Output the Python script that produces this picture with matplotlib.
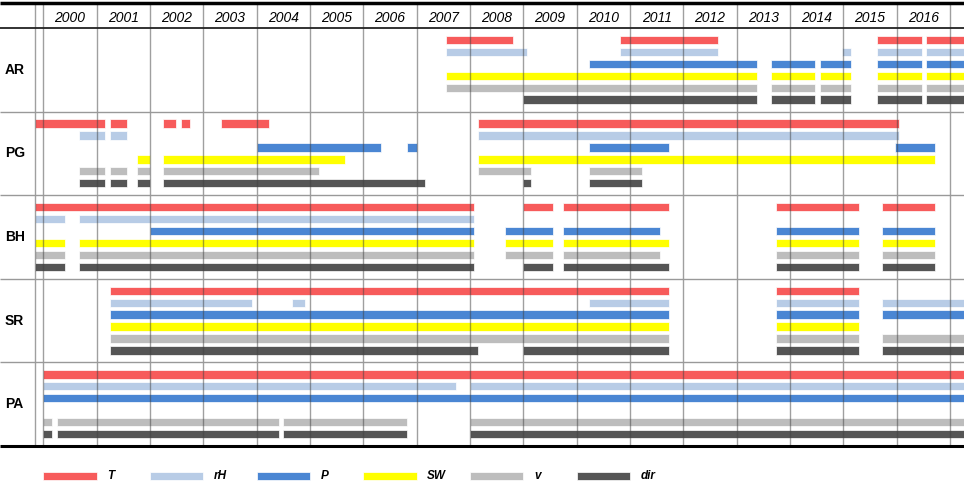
import matplotlib
matplotlib.use("Agg")
import matplotlib.pyplot as plt
from matplotlib.patches import Rectangle

plt.rcParams['font.family'] = ['Liberation Sans', 'DejaVu Sans']

# station rows, top to bottom
stations = ['AR', 'PG', 'BH', 'SR', 'PA']
variables = ['T', 'rH', 'P', 'SW', 'v', 'dir']
colors = ['#f75b5b', '#b8cce6', '#4a86d3', '#ffff00', '#bdbdbd', '#555555']
years = list(range(2000, 2017))

# data periods (start, end) in decimal years
AR = {
    'T':   [(2007.56, 2008.81), (2010.81, 2012.65), (2015.64, 2016.47), (2016.55, 2017.5)],
    'rH':  [(2007.56, 2009.07), (2010.81, 2012.65), (2014.98, 2015.14), (2015.64, 2016.47), (2016.55, 2017.5)],
    'P':   [(2010.24, 2013.39), (2013.64, 2014.47), (2014.56, 2015.14), (2015.64, 2016.47), (2016.55, 2017.5)],
    'SW':  [(2007.56, 2013.39), (2013.64, 2014.47), (2014.56, 2015.14), (2015.64, 2016.47), (2016.55, 2017.5)],
    'v':   [(2007.56, 2013.39), (2013.64, 2014.47), (2014.56, 2015.14), (2015.64, 2016.47), (2016.55, 2017.5)],
    'dir': [(2009.0, 2013.39), (2013.64, 2014.47), (2014.56, 2015.14), (2015.64, 2016.47), (2016.55, 2017.5)],
}
PG = {
    'T':   [(1999.84, 2001.16), (2001.25, 2001.575), (2002.25, 2002.49), (2002.575, 2002.75),
            (2003.325, 2004.24), (2008.16, 2016.05)],
    'rH':  [(2000.66, 2001.16), (2001.25, 2001.575), (2008.16, 2016.05)],
    'P':   [(2004.0, 2006.325), (2006.825, 2007.0), (2010.24, 2011.73), (2015.97, 2016.725)],
    'SW':  [(2001.75, 2002.0), (2002.25, 2005.66), (2008.16, 2016.725)],
    'v':   [(2000.66, 2001.16), (2001.25, 2001.575), (2001.75, 2002.0), (2002.25, 2005.16),
            (2008.16, 2009.15), (2010.24, 2011.23)],
    'dir': [(2000.66, 2001.16), (2001.25, 2001.575), (2001.75, 2002.0), (2002.25, 2007.15),
            (2009.0, 2009.15), (2010.24, 2011.23)],
}
BH = {
    'T':   [(1999.84, 2008.075), (2009.0, 2009.56), (2009.74, 2011.73), (2013.73, 2015.30), (2015.73, 2016.725)],
    'rH':  [(1999.84, 2000.41), (2000.66, 2008.075)],
    'P':   [(2002.0, 2008.075), (2008.66, 2009.56), (2009.74, 2011.57), (2013.73, 2015.30), (2015.73, 2016.725)],
    'SW':  [(1999.84, 2000.41), (2000.66, 2008.075), (2008.66, 2009.56), (2009.74, 2011.73),
            (2013.73, 2015.30), (2015.73, 2016.725)],
    'v':   [(1999.84, 2000.41), (2000.66, 2008.075), (2008.66, 2009.56), (2009.74, 2011.57),
            (2013.73, 2015.30), (2015.73, 2016.725)],
    'dir': [(1999.84, 2000.41), (2000.66, 2008.075), (2009.0, 2009.56), (2009.74, 2011.73),
            (2013.73, 2015.30), (2015.73, 2016.725)],
}
SR = {
    'T':   [(2001.25, 2011.73), (2013.73, 2015.30)],
    'rH':  [(2001.25, 2003.91), (2004.66, 2004.91), (2010.24, 2011.73), (2013.73, 2015.30), (2015.73, 2017.5)],
    'P':   [(2001.25, 2011.73), (2013.73, 2015.30), (2015.73, 2017.5)],
    'SW':  [(2001.25, 2011.73), (2013.73, 2015.30)],
    'v':   [(2001.25, 2011.73), (2013.73, 2015.30), (2015.73, 2017.5)],
    'dir': [(2001.25, 2008.16), (2009.0, 2011.73), (2013.73, 2015.30), (2015.73, 2017.5)],
}
PA = {
    'T':   [(2000.0, 2017.5)],
    'rH':  [(2000.0, 2007.74), (2008.0, 2017.5)],
    'P':   [(2000.0, 2017.5)],
    'SW':  [],
    'v':   [(2000.0, 2000.16), (2000.25, 2004.41), (2004.49, 2006.825), (2008.0, 2017.5)],
    'dir': [(2000.0, 2000.16), (2000.25, 2004.41), (2004.49, 2006.825), (2008.0, 2017.5)],
}
periods = [AR, PG, BH, SR, PA]

# layout: y in row units (each station block = 7 rows), x in years
x_left, x_right = 1999.1875, 2017.264
y_top, y_bottom = -2.344, 38.18
x_frame = 1999.84
y_head = -2.093
n_rows = 7

fig = plt.figure(figsize=(9.64, 4.84), dpi=100)
ax = fig.add_axes([0, 0, 1, 1])
ax.set_xlim(x_left, x_right)
ax.set_ylim(y_bottom, y_top)
ax.axis('off')

bar_h = 0.7
for g, (name, st) in enumerate(zip(stations, periods)):
    top = g * n_rows
    for i, var in enumerate(variables):
        y = top + 1 + i
        spans = st[var]
        if spans:
            ax.barh([y] * len(spans), [e - s for s, e in spans], left=[s for s, e in spans],
                    height=bar_h, color=colors[i], edgecolor='white', linewidth=0.5, zorder=2)
    ax.text(1999.28, top + 3.5, name, ha='left', va='center', fontsize=10, fontweight='bold')

# vertical grid lines (year boundaries)
ax.vlines([x_frame] + years + [2017], y_head, len(stations) * n_rows,
          color='#404040', alpha=0.5, linewidth=1, zorder=3)

# horizontal rules
ax.hlines(y_head, x_left, x_right, color='black', linewidth=2.5, zorder=4)
ax.hlines(0, x_left, x_right, color='#222222', linewidth=1.3, zorder=4)
ax.hlines([n_rows * k for k in range(1, len(stations))], x_left, x_right,
          color='#999999', linewidth=1, zorder=4)
ax.hlines(len(stations) * n_rows, x_left, x_right, color='black', linewidth=2.2, zorder=4)

for yr in years:
    ax.text(yr + 0.5, -0.85, str(yr), ha='center', va='center', fontsize=10, style='italic')

# legend along the bottom
leg_y = 37.51
for k, (var, c) in enumerate(zip(variables, colors)):
    x0 = 2000 + 2 * k
    ax.add_patch(Rectangle((x0, leg_y - 0.33), 1, 0.66, facecolor=c, edgecolor='white',
                           linewidth=0.5, clip_on=False))
    ax.text(x0 + 1.2, leg_y, var, ha='left', va='center', fontsize=8.5,
            style='italic', fontweight='bold')

fig.savefig('out.png', dpi=100)
